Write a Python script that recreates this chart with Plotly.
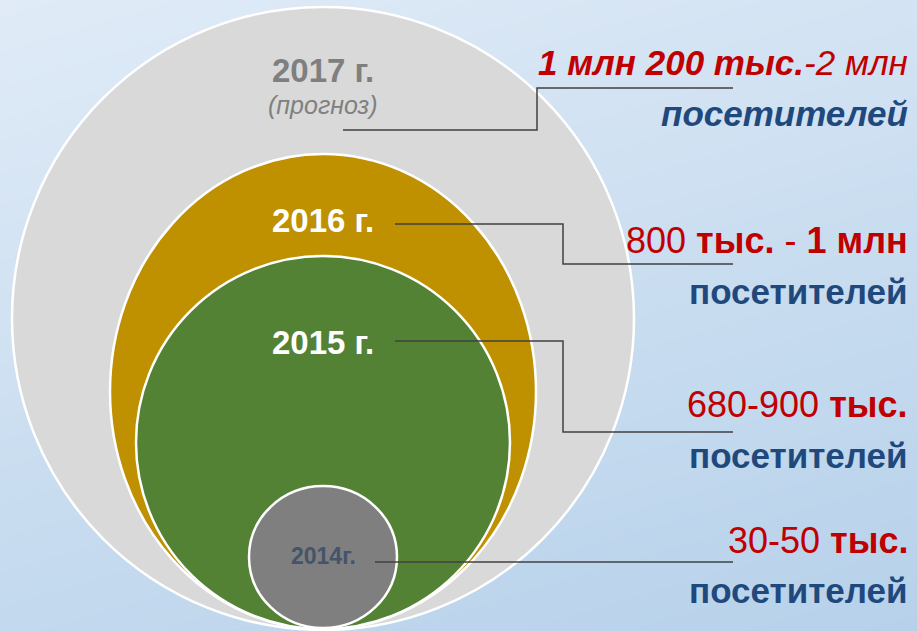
import plotly.graph_objects as go

# --- data ---
years = ["2014г.", "2015 г.", "2016 г.", "2017 г."]
forecast_note = "(прогноз)"
visitor_ranges = [
    "30-50 <b>тыс.</b>",
    "680-900 <b>тыс.</b>",
    "800 <b>тыс.</b> - <b>1 млн</b>",
    "<b><i>1 млн 200 тыс.</i></b><i>-2 млн</i>",
]
visitors_word = "посетителей"

# --- geometry of the nested ellipses (pixel space, y down) ---
W, H = 917, 631
cx = 323
ell_rx = [74, 187, 213, 311]
ell_top = [486, 256, 154, 7]
ell_bottom = [628, 629, 629, 630]
ell_fill = ["#7f7f7f", "#548235", "#bf9000", "#d9d9d9"]

year_y = [556, 342, 220, 70]
year_color = ["#44546a", "white", "white", "#7f7f7f"]
year_size = [23, 33, 33, 33]

# leader lines: start x, start y, elbow x, end y
lead_x0 = [375, 395, 395, 343]
lead_y0 = [562, 341, 224, 130]
lead_xm = [560, 563, 563, 537]
lead_y1 = [562, 432, 264, 88]
lead_x1 = 733

label_y = [540, 404, 240, 62]
word_y = [590, 455, 291, 113]

FONT = "Liberation Sans, Arial, sans-serif"

fig = go.Figure()

# soft blue gradient background
fig.add_trace(go.Heatmap(
    x=[0, W], y=[0, H], z=[[0.0, 0.3], [0.7, 1.0]],
    zsmooth="best", showscale=False, hoverinfo="skip",
    colorscale=[[0, "#e0ebf7"], [1, "#b6d1ea"]],
))

# ellipses, biggest first
for i in reversed(range(len(years))):
    fig.add_shape(type="circle", xref="x", yref="y",
                  x0=cx - ell_rx[i], x1=cx + ell_rx[i],
                  y0=ell_top[i], y1=ell_bottom[i],
                  fillcolor=ell_fill[i], line=dict(color="white", width=2.5))

# leader lines
for i in range(len(years)):
    if lead_y0[i] == lead_y1[i]:
        path = f"M {lead_x0[i]} {lead_y0[i]} L {lead_x1} {lead_y1[i]}"
    else:
        path = (f"M {lead_x0[i]} {lead_y0[i]} L {lead_xm[i]} {lead_y0[i]} "
                f"L {lead_xm[i]} {lead_y1[i]} L {lead_x1} {lead_y1[i]}")
    fig.add_shape(type="path", xref="x", yref="y", path=path,
                  line=dict(color="#404040", width=1.5))

# year labels inside ellipses
for i, yr in enumerate(years):
    fig.add_annotation(x=cx, y=year_y[i], text=f"<b>{yr}</b>", showarrow=False,
                       xanchor="center", yanchor="middle",
                       font=dict(family=FONT, size=year_size[i], color=year_color[i]))
fig.add_annotation(x=cx, y=105, text=f"<i>{forecast_note}</i>", showarrow=False,
                   xanchor="center", yanchor="middle",
                   font=dict(family=FONT, size=25, color="#808080"))

# right-hand visitor labels
for i, txt in enumerate(visitor_ranges):
    top = i == len(visitor_ranges) - 1
    fig.add_annotation(x=910, y=label_y[i], text=txt, showarrow=False,
                       xanchor="right", yanchor="middle",
                       font=dict(family=FONT, size=35 if top else 36, color="#c00000"))
    word = f"<b><i>{visitors_word}</i></b>" if top else f"<b>{visitors_word}</b>"
    fig.add_annotation(x=910, y=word_y[i], text=word, showarrow=False,
                       xanchor="right", yanchor="middle",
                       font=dict(family=FONT, size=35, color="#1f497d"))

fig.update_layout(
    width=W, height=H, autosize=False,
    margin=dict(l=0, r=0, t=0, b=0),
    paper_bgcolor="#cfe0f1", plot_bgcolor="#cfe0f1",
    xaxis=dict(range=[0, W], visible=False, fixedrange=True),
    yaxis=dict(range=[H, 0], visible=False, fixedrange=True),
    showlegend=False,
)

fig.write_html("out.html", config={"displayModeBar": False},
               post_script="document.body.style.margin='0';")
